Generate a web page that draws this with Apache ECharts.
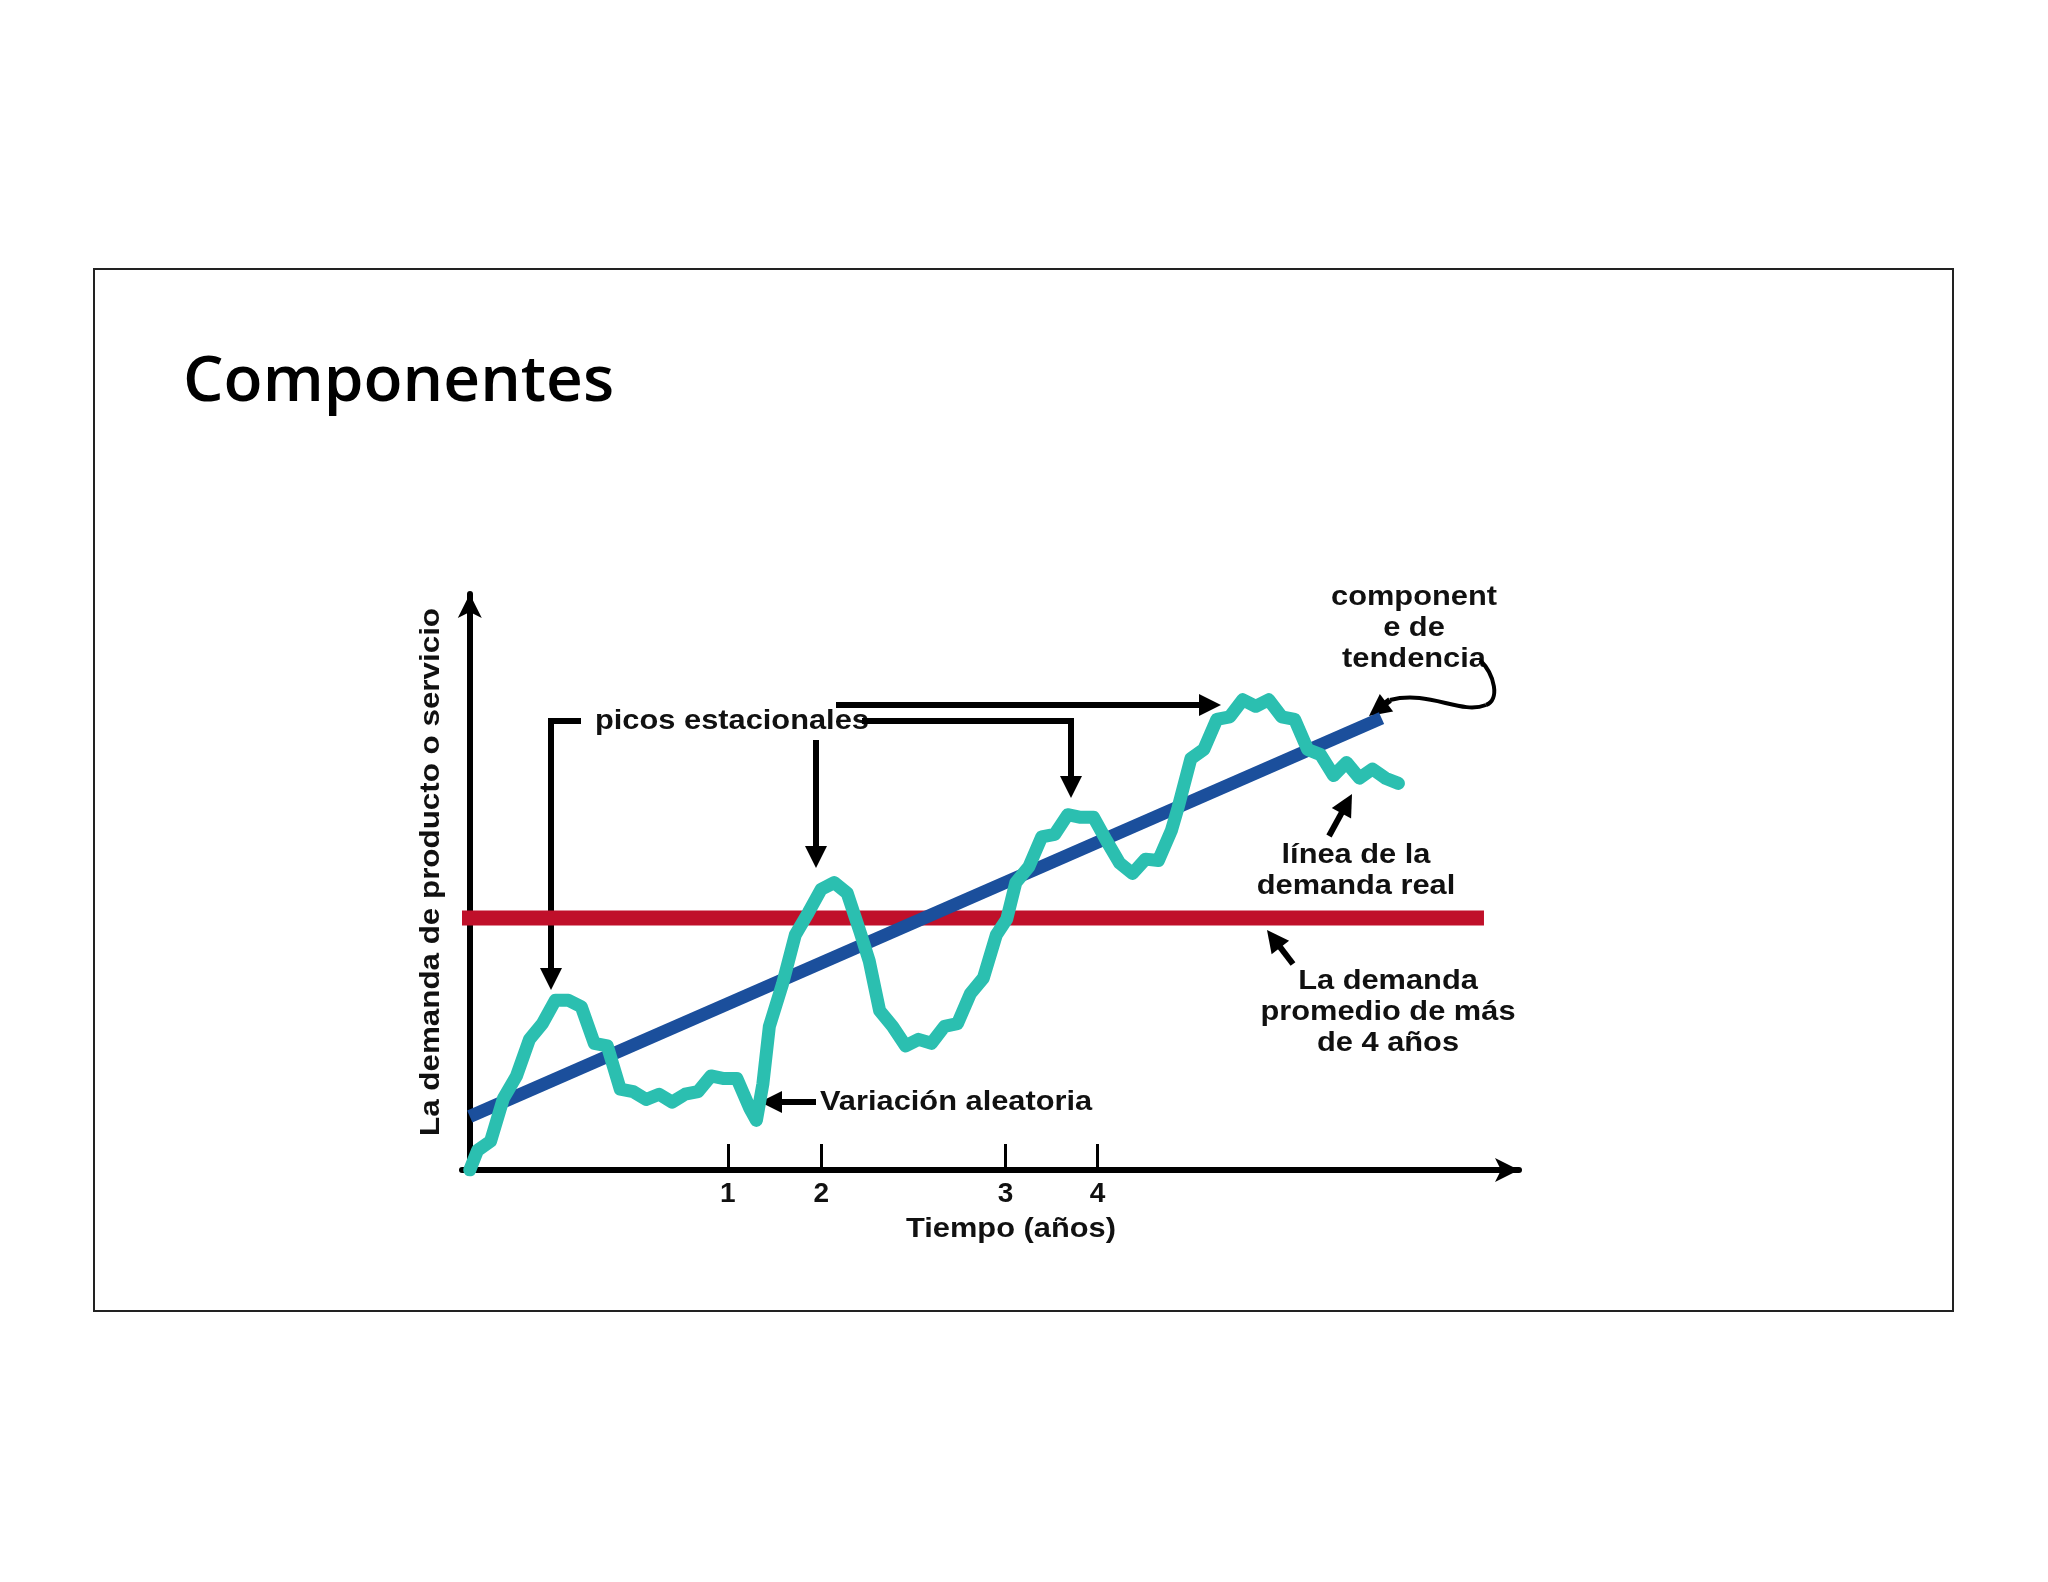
<!DOCTYPE html>
<html><head><meta charset="utf-8">
<script src="https://cdn.jsdelivr.net/npm/echarts@6/dist/echarts.min.js"></script>
<style>html,body{margin:0;padding:0;background:#fff}#c{width:2048px;height:1582px}</style>
</head><body><div id="c"></div>
<script>
// Data (x: time units, y: demand units)
const demandX = [0,6,16,26,36,46,56,66,76,86,96,106,116,126,136,146,156,166,176,186,196,206,216,221,226,231,241,251,261,271,281,291,301,308,316,326,336,346,356,366,376,386,396,406,414,421,431,441,451,461,471,481,491,501,511,521,531,541,546,556,566,576,586,596,606,616,626,636,646,656,666,676,686,696,706,716];
const demandY = [0,15,22,55,72,100,112,130,130,125,97,95,62,60,54,58,52,58,60,72,70,70,47,38,66,110,142,180,197,215,220,212,182,160,122,110,95,100,97,110,112,135,147,180,192,220,232,255,257,272,270,270,252,235,227,238,237,260,277,315,322,345,347,360,355,360,347,345,322,318,302,312,300,307,300,296];
const trendX = [0, 703];
const trendY = [41, 346];
const averageX = [-6, 782];
const averageY = [193, 193];
const tickValues = [199, 271, 413, 484];
const tickLabels = ['1', '2', '3', '4'];

const zip = (a, b) => a.map((v, i) => [v, b[i]]);
const F = '"Liberation Sans", Arial, sans-serif';
const W = 6;
function arrow(pts) {
  const out = [];
  out.push({type:'polyline', shape:{points: pts.slice(0, -1).concat([shorten(pts)])}, style:{stroke:'#000', lineWidth:W, fill:null}});
  const [x2,y2] = pts[pts.length-1], [x1,y1] = pts[pts.length-2];
  const a = Math.atan2(y2-y1, x2-x1), L = 22, H = 11;
  const bx = x2 - L*Math.cos(a), by = y2 - L*Math.sin(a);
  out.push({type:'polygon', shape:{points:[[x2,y2],[bx - H*Math.sin(a), by + H*Math.cos(a)],[bx + H*Math.sin(a), by - H*Math.cos(a)]]}, style:{fill:'#000'}});
  return out;
}
function shorten(pts) {
  const [x2,y2] = pts[pts.length-1], [x1,y1] = pts[pts.length-2];
  const a = Math.atan2(y2-y1, x2-x1);
  return [x2 - 15*Math.cos(a), y2 - 15*Math.sin(a)];
}
function txt(x, y, t, align) {
  return {type:'text', x, y, scaleX:1.1, style:{text:t, font:'bold 28px '+F, fill:'#111', align:align||'left', verticalAlign:'middle', lineHeight:31}};
}

const graphics = [
  {type:'rect', shape:{x:94, y:269, width:1859, height:1042}, style:{fill:null, stroke:'#222', lineWidth:2}},
  {type:'text', x:183, y:383, style:{text:'Componentes', font:'600 64px "Open Sans", sans-serif', fill:'#000', verticalAlign:'middle'}},
  txt(595, 721, 'picos estacionales'),
  txt(820, 1102, 'Variación aleatoria'),
  txt(1414, 628, 'component\ne de\ntendencia', 'center'),
  txt(1356, 871, 'línea de la\ndemanda real', 'center'),
  txt(1388, 1012, 'La demanda\npromedio de más\nde 4 años', 'center'),
  {type:'text', x:431, y:872, rotation:Math.PI/2, scaleX:1.12, style:{text:'La demanda de producto o servicio', font:'bold 28px '+F, fill:'#111', align:'center', verticalAlign:'middle'}},
  {type:'text', x:1011, y:1229, scaleX:1.1, style:{text:'Tiempo (años)', font:'bold 28px '+F, fill:'#111', align:'center', verticalAlign:'middle'}},
  ...arrow([[581,721],[551,721],[551,990]]),
  ...arrow([[816,740],[816,868]]),
  ...arrow([[836,705],[1221,705]]),
  ...arrow([[862,721],[1071,721],[1071,798]]),
  ...arrow([[816,1102],[760,1102]]),
  ...arrow([[1329,836],[1352,794]]),
  ...arrow([[1293,964],[1267,930]]),
  {type:'bezierCurve', shape:{x1:1480, y1:660, x2:1486, y2:705, cpx1:1495, cpy1:675, cpx2:1500, cpy2:700}, style:{stroke:'#000', lineWidth:4, fill:null}},
  {type:'bezierCurve', shape:{x1:1486, y1:705, x2:1390, y2:700, cpx1:1460, cpy1:715, cpx2:1430, cpy2:690}, style:{stroke:'#000', lineWidth:4, fill:null}},
  ...arrow([[1390,700],[1369,716]])
];

const chart = echarts.init(document.getElementById('c'));
chart.setOption({
  backgroundColor:'#fff',
  animation:false,
  grid:{left:462, top:594, width:1057, height:576},
  xAxis:{type:'value', min:-6, max:809, splitLine:{show:false},
    axisLine:{onZero:false, lineStyle:{color:'#000', width:6}, symbol:['none','arrow'], symbolSize:[18,24]},
    axisTick:{show:true, inside:true, length:26, lineStyle:{color:'#000', width:3}, customValues:tickValues},
    axisLabel:{show:true, customValues:tickValues, formatter:v => tickLabels[tickValues.indexOf(v)] || '', fontFamily:F, fontWeight:'bold', fontSize:28, color:'#111', margin:10}},
  yAxis:{type:'value', min:0, max:441, splitLine:{show:false},
    axisLine:{show:true, onZero:true, lineStyle:{color:'#000', width:6}, symbol:['none','arrow'], symbolSize:[18,24]},
    axisTick:{show:false}, axisLabel:{show:false}},
  series:[
    {type:'line', data:zip(averageX, averageY), symbol:'none', lineStyle:{color:'#c0102a', width:15}, z:2},
    {type:'line', data:zip(trendX, trendY), symbol:'none', lineStyle:{color:'#1b4f9c', width:13}, z:3},
    {type:'line', data:zip(demandX, demandY), symbol:'none', lineStyle:{color:'#2bbfb0', width:13, join:'round', cap:'round'}, z:4}
  ],
  graphic:graphics
});
</script></body></html>
